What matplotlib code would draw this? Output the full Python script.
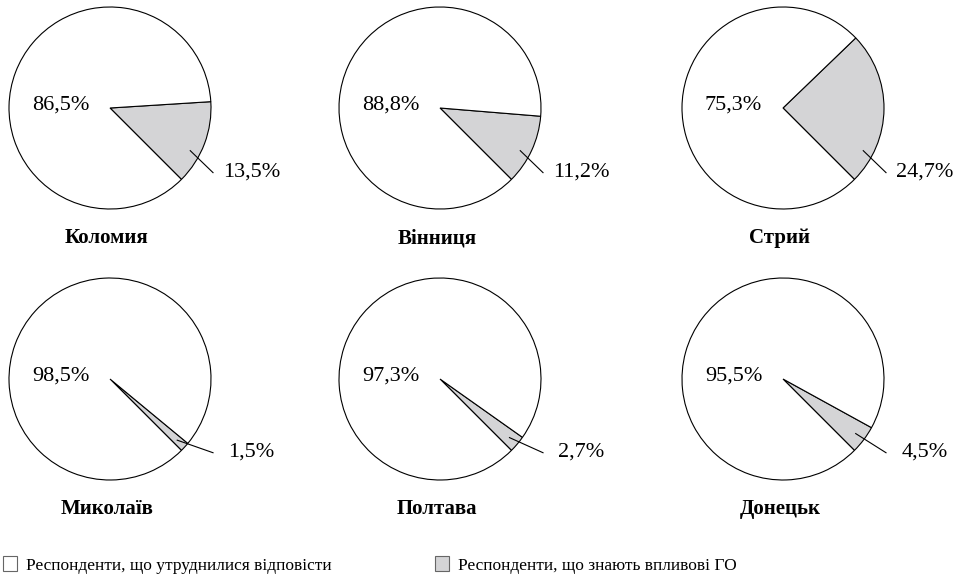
import numpy as np
import matplotlib
matplotlib.use("Agg")
import matplotlib.pyplot as plt
from matplotlib.patches import Patch

plt.rcParams['font.family'] = ['Liberation Serif', 'DejaVu Serif']

cities = ['Коломия', 'Вінниця', 'Стрий', 'Миколаїв', 'Полтава', 'Донецьк']
know_go = [13.5, 11.2, 24.7, 1.5, 2.7, 4.5]
unsure = [86.5, 88.8, 75.3, 98.5, 97.3, 95.5]
legend_labels = ['Респонденти, що утруднилися відповісти',
                 'Респонденти, що знають впливові ГО']

gray = '#d4d4d6'

W, H = 960, 581
fig = plt.figure(figsize=(W / 100, H / 100), dpi=100)

col_x = [110, 440, 783]
row_y = [108, 379]
R = 101      # pie radius in px
half = 150   # half size of each axes box in px
lim = half / R
label_y = [-0.63, -0.72]


def fmt(v):
    return f"{v:.1f}".replace('.', ',') + '%'


for i, city in enumerate(cities):
    r, c = divmod(i, 3)
    cx, cy = col_x[c], row_y[r]
    ax = fig.add_axes([(cx - half) / W, 1 - (cy + half) / H, 2 * half / W, 2 * half / H])
    ax.pie([know_go[i], unsure[i]], colors=[gray, 'white'], startangle=-45,
           counterclock=True, radius=1,
           wedgeprops=dict(edgecolor='black', linewidth=0.8))
    ax.set_xlim(-lim, lim)
    ax.set_ylim(-lim, lim)
    ax.set_aspect('equal')
    ax.axis('off')

    # white share label
    ax.text(-0.49, 0.03, fmt(unsure[i]), ha='center', va='center', fontsize=16)

    # gray share label with leader line
    mid = -45 + know_go[i] * 3.6 / 2
    ang = np.radians(min(mid, -28))
    lx, ly = 1.40, label_y[r]
    ax.plot([0.9 * np.cos(ang), lx - 0.38], [0.9 * np.sin(ang), ly - 0.01],
            color='black', linewidth=0.8, clip_on=False)
    ax.text(lx, ly, fmt(know_go[i]), ha='center', va='center', fontsize=16)

    ax.text(-0.03, -1.29, city, ha='center', va='center', fontsize=15,
            fontweight='bold')

handles = [Patch(facecolor='white', edgecolor='#666666', linewidth=0.8),
           Patch(facecolor=gray, edgecolor='#666666', linewidth=0.8)]
for h, lab, x0 in zip(handles, legend_labels, [3, 435]):
    fig.legend([h], [lab], loc='center left', bbox_to_anchor=(x0 / W, 1 - 565 / H),
               frameon=False, fontsize=12.5, borderpad=0, borderaxespad=0,
               handlelength=0.8, handleheight=0.9, handletextpad=0.55)

fig.savefig('out.png', dpi=100)
